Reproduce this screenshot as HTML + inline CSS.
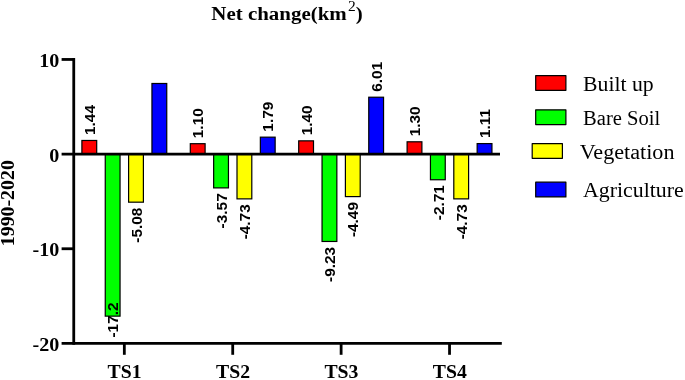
<!DOCTYPE html>
<html lang="en"><head><meta charset="utf-8"><title>Net change (km2) 1990-2020</title>
<style>
html,body{margin:0;padding:0;background:#fff;}
body{width:685px;height:380px;overflow:hidden;}
svg{display:block;}
.serifb{font-family:"Liberation Serif",serif;font-weight:bold;fill:#000;}
.serif{font-family:"Liberation Serif",serif;font-weight:normal;fill:#000;}
.lab{font-family:"Liberation Sans",sans-serif;font-weight:bold;fill:#000;}
</style></head><body>
<svg width="685" height="380" viewBox="0 0 685 380">
<rect x="0" y="0" width="685" height="380" fill="#ffffff"/>
<text class="serifb" x="211.3" y="20.4" font-size="19.6" textLength="151.4" lengthAdjust="spacingAndGlyphs">Net change(km<tspan font-size="14.5" font-weight="normal" dx="1.2" dy="-9.6">2</tspan><tspan dy="9.6">)</tspan></text>
<rect x="81.90" y="140.47" width="14.80" height="13.63" fill="#ff0000" stroke="#000" stroke-width="1.2"/>
<text class="lab" font-size="15.4" text-anchor="start" transform="translate(94.95 134.97) rotate(-90)">1.44</text>
<rect x="105.25" y="154.10" width="14.80" height="162.04" fill="#00ff00" stroke="#000" stroke-width="1.2"/>
<text class="lab" font-size="15.4" text-anchor="end" textLength="35.10" lengthAdjust="spacingAndGlyphs" transform="translate(118.30 302.50) rotate(-90)">-17.2</text>
<rect x="128.60" y="154.10" width="14.80" height="48.08" fill="#ffff00" stroke="#000" stroke-width="1.2"/>
<text class="lab" font-size="15.4" text-anchor="end" textLength="35.10" lengthAdjust="spacingAndGlyphs" transform="translate(141.65 207.58) rotate(-90)">-5.08</text>
<rect x="151.95" y="83.49" width="14.80" height="70.61" fill="#0000ff" stroke="#000" stroke-width="1.2"/>
<rect x="190.30" y="143.69" width="14.80" height="10.41" fill="#ff0000" stroke="#000" stroke-width="1.2"/>
<text class="lab" font-size="15.4" text-anchor="start" transform="translate(203.35 138.19) rotate(-90)">1.10</text>
<rect x="213.65" y="154.10" width="14.80" height="33.79" fill="#00ff00" stroke="#000" stroke-width="1.2"/>
<text class="lab" font-size="15.4" text-anchor="end" textLength="35.10" lengthAdjust="spacingAndGlyphs" transform="translate(226.70 193.29) rotate(-90)">-3.57</text>
<rect x="237.00" y="154.10" width="14.80" height="44.77" fill="#ffff00" stroke="#000" stroke-width="1.2"/>
<text class="lab" font-size="15.4" text-anchor="end" textLength="35.10" lengthAdjust="spacingAndGlyphs" transform="translate(250.05 204.27) rotate(-90)">-4.73</text>
<rect x="260.35" y="137.16" width="14.80" height="16.94" fill="#0000ff" stroke="#000" stroke-width="1.2"/>
<text class="lab" font-size="15.4" text-anchor="start" transform="translate(273.40 131.66) rotate(-90)">1.79</text>
<rect x="298.70" y="140.85" width="14.80" height="13.25" fill="#ff0000" stroke="#000" stroke-width="1.2"/>
<text class="lab" font-size="15.4" text-anchor="start" transform="translate(311.75 135.35) rotate(-90)">1.40</text>
<rect x="322.05" y="154.10" width="14.80" height="87.36" fill="#00ff00" stroke="#000" stroke-width="1.2"/>
<text class="lab" font-size="15.4" text-anchor="end" textLength="35.10" lengthAdjust="spacingAndGlyphs" transform="translate(335.10 246.86) rotate(-90)">-9.23</text>
<rect x="345.40" y="154.10" width="14.80" height="42.50" fill="#ffff00" stroke="#000" stroke-width="1.2"/>
<text class="lab" font-size="15.4" text-anchor="end" textLength="35.10" lengthAdjust="spacingAndGlyphs" transform="translate(358.45 202.00) rotate(-90)">-4.49</text>
<rect x="368.75" y="97.22" width="14.80" height="56.88" fill="#0000ff" stroke="#000" stroke-width="1.2"/>
<text class="lab" font-size="15.4" text-anchor="start" transform="translate(381.80 91.72) rotate(-90)">6.01</text>
<rect x="407.10" y="141.80" width="14.80" height="12.30" fill="#ff0000" stroke="#000" stroke-width="1.2"/>
<text class="lab" font-size="15.4" text-anchor="start" transform="translate(420.15 136.30) rotate(-90)">1.30</text>
<rect x="430.45" y="154.10" width="14.80" height="25.65" fill="#00ff00" stroke="#000" stroke-width="1.2"/>
<text class="lab" font-size="15.4" text-anchor="end" textLength="35.10" lengthAdjust="spacingAndGlyphs" transform="translate(443.50 185.15) rotate(-90)">-2.71</text>
<rect x="453.80" y="154.10" width="14.80" height="44.77" fill="#ffff00" stroke="#000" stroke-width="1.2"/>
<text class="lab" font-size="15.4" text-anchor="end" textLength="35.10" lengthAdjust="spacingAndGlyphs" transform="translate(466.85 204.27) rotate(-90)">-4.73</text>
<rect x="477.15" y="143.59" width="14.80" height="10.51" fill="#0000ff" stroke="#000" stroke-width="1.2"/>
<text class="lab" font-size="15.4" text-anchor="start" transform="translate(490.20 138.09) rotate(-90)">1.11</text>
<g stroke="#000" stroke-width="2.8" fill="none" stroke-linecap="butt">
<line x1="73.75" y1="58.05" x2="73.75" y2="344.8"/>
<line x1="61.6" y1="154.1" x2="500" y2="154.1"/>
<line x1="61.6" y1="343.4" x2="501.8" y2="343.4"/>
<line x1="61.6" y1="59.45" x2="73.75" y2="59.45"/>
<line x1="61.6" y1="248.75" x2="73.75" y2="248.75"/>
<line x1="124.33" y1="343.4" x2="124.33" y2="354.8"/>
<line x1="232.72" y1="343.4" x2="232.72" y2="354.8"/>
<line x1="341.12" y1="343.4" x2="341.12" y2="354.8"/>
<line x1="449.53" y1="343.4" x2="449.53" y2="354.8"/>
</g>
<text class="serifb" font-size="19.5" text-anchor="end" x="59.3" y="67.05" textLength="20.10" lengthAdjust="spacingAndGlyphs">10</text>
<text class="serifb" font-size="19.5" text-anchor="end" x="59.3" y="161.70" textLength="10.05" lengthAdjust="spacingAndGlyphs">0</text>
<text class="serifb" font-size="19.5" text-anchor="end" x="59.3" y="256.35" textLength="26.80" lengthAdjust="spacingAndGlyphs">-10</text>
<text class="serifb" font-size="19.5" text-anchor="end" x="59.3" y="351.00" textLength="26.80" lengthAdjust="spacingAndGlyphs">-20</text>
<text class="serifb" font-size="19" text-anchor="middle" x="124.62" y="378" textLength="34" lengthAdjust="spacingAndGlyphs">TS1</text>
<text class="serifb" font-size="19" text-anchor="middle" x="233.03" y="378" textLength="34" lengthAdjust="spacingAndGlyphs">TS2</text>
<text class="serifb" font-size="19" text-anchor="middle" x="341.43" y="378" textLength="34" lengthAdjust="spacingAndGlyphs">TS3</text>
<text class="serifb" font-size="19" text-anchor="middle" x="449.83" y="378" textLength="34" lengthAdjust="spacingAndGlyphs">TS4</text>
<text class="serifb" font-size="19" text-anchor="middle" textLength="86" lengthAdjust="spacingAndGlyphs" transform="translate(14.2 203.2) rotate(-90)">1990-2020</text>
<rect x="535.70" y="75.60" width="30.2" height="14.7" fill="#ff0000" stroke="#000" stroke-width="1.2" stroke-linejoin="round"/>
<text class="serif" font-size="20" x="583.05" y="90.50" textLength="70.65" lengthAdjust="spacingAndGlyphs">Built up</text>
<rect x="535.70" y="109.85" width="30.2" height="14.7" fill="#00ff00" stroke="#000" stroke-width="1.2" stroke-linejoin="round"/>
<text class="serif" font-size="20" x="583.05" y="124.50" textLength="77.15" lengthAdjust="spacingAndGlyphs">Bare Soil</text>
<rect x="532.20" y="143.60" width="30.2" height="14.7" fill="#ffff00" stroke="#000" stroke-width="1.2" stroke-linejoin="round"/>
<text class="serif" font-size="20" x="579.80" y="158.90" textLength="94.65" lengthAdjust="spacingAndGlyphs">Vegetation</text>
<rect x="535.70" y="182.20" width="30.2" height="14.7" fill="#0000ff" stroke="#000" stroke-width="1.2" stroke-linejoin="round"/>
<text class="serif" font-size="20" x="583.05" y="197.40" textLength="100.65" lengthAdjust="spacingAndGlyphs">Agriculture</text>
</svg>
</body></html>
